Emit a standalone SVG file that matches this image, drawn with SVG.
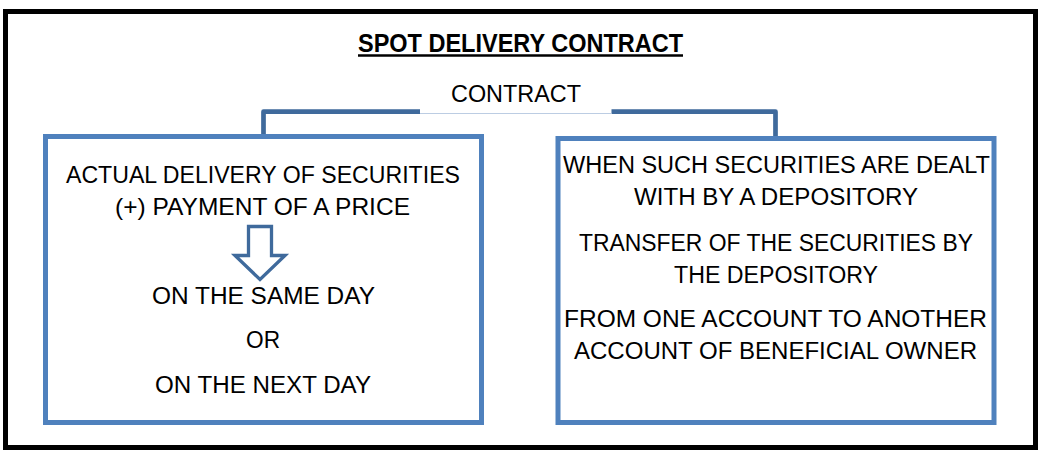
<svg xmlns="http://www.w3.org/2000/svg" width="1044" height="450" viewBox="0 0 1044 450">
<style>
.t{font-family:"Liberation Sans",Arial,sans-serif;font-size:24.5px;fill:#000;text-anchor:middle}
.title{font-weight:bold;font-size:25px}
.box{fill:#fff;stroke:#4f81bd;stroke-width:5}
.conn{fill:none;stroke:#3f6a9c;stroke-width:4.7;stroke-linejoin:round}
</style>
<rect width="1044" height="450" fill="#fff"/>
<rect id="frame" x="5.5" y="11.5" width="1030" height="436" fill="none" stroke="#000" stroke-width="5"/>
<g id="title">
<text class="t title" x="520.5" y="52" textLength="325" lengthAdjust="spacingAndGlyphs">SPOT DELIVERY CONTRACT</text>
<line x1="358" y1="55.5" x2="683" y2="55.5" stroke="#000" stroke-width="2.4"/>
</g>
<g id="connectors">
<path class="conn" d="M263.5,136 V111.7 H420"/>
<path class="conn" d="M611.5,111.7 H775.5 V138"/>
<line x1="420" y1="113.5" x2="611.5" y2="113.5" stroke="#bccde3" stroke-width="1.2"/>
</g>
<g id="root">
<text class="t" x="516" y="102" textLength="130" lengthAdjust="spacingAndGlyphs">CONTRACT</text>
</g>
<g id="left">
<rect class="box" x="45.5" y="136.5" width="436" height="286"/>
<text class="t" x="263" y="183" textLength="394" lengthAdjust="spacingAndGlyphs">ACTUAL DELIVERY OF SECURITIES</text>
<text class="t" x="262.5" y="214.5" textLength="295" lengthAdjust="spacingAndGlyphs">(+) PAYMENT OF A PRICE</text>
<polygon points="248.5,226.5 271.5,226.5 271.5,255.5 285,255.5 260,279.5 235,255.5 248.5,255.5" fill="#fff" stroke="#3f6a9c" stroke-width="3.3" stroke-linejoin="miter"/>
<text class="t" x="263.5" y="304" textLength="223" lengthAdjust="spacingAndGlyphs">ON THE SAME DAY</text>
<text class="t" x="263" y="348" textLength="34" lengthAdjust="spacingAndGlyphs">OR</text>
<text class="t" x="263" y="393" textLength="216" lengthAdjust="spacingAndGlyphs">ON THE NEXT DAY</text>
</g>
<g id="right">
<rect class="box" x="558" y="138.5" width="436" height="284"/>
<text class="t" x="776.5" y="173" textLength="427" lengthAdjust="spacingAndGlyphs">WHEN SUCH SECURITIES ARE DEALT</text>
<text class="t" x="776" y="205" textLength="284" lengthAdjust="spacingAndGlyphs">WITH BY A DEPOSITORY</text>
<text class="t" x="776" y="251" textLength="394" lengthAdjust="spacingAndGlyphs">TRANSFER OF THE SECURITIES BY</text>
<text class="t" x="776" y="283" textLength="204" lengthAdjust="spacingAndGlyphs">THE DEPOSITORY</text>
<text class="t" x="775.5" y="327" textLength="423" lengthAdjust="spacingAndGlyphs">FROM ONE ACCOUNT TO ANOTHER</text>
<text class="t" x="775.5" y="359" textLength="403" lengthAdjust="spacingAndGlyphs">ACCOUNT OF BENEFICIAL OWNER</text>
</g>
</svg>
